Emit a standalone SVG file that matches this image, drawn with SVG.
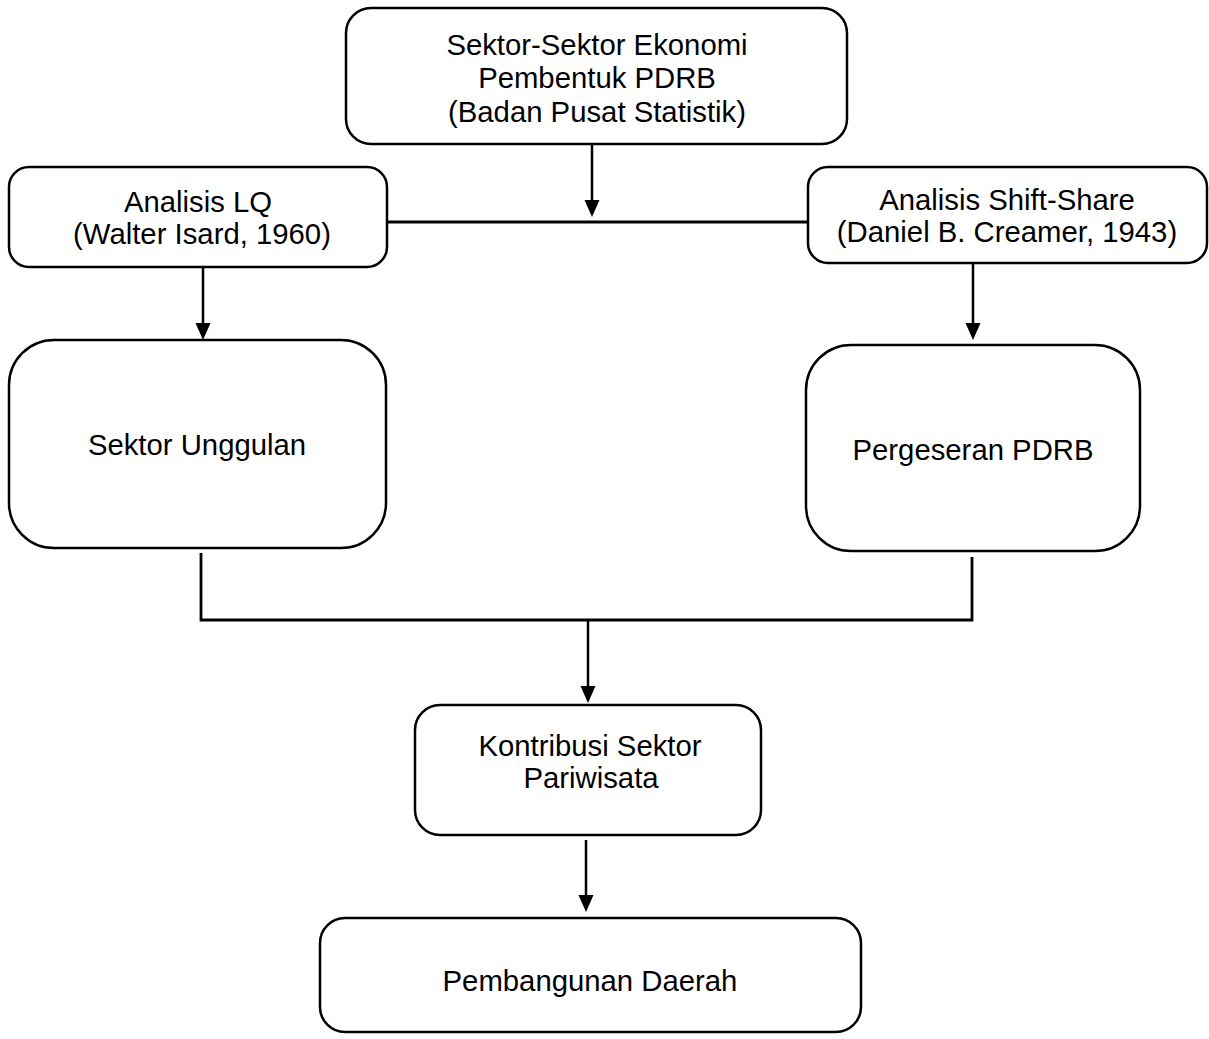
<svg xmlns="http://www.w3.org/2000/svg" width="1209" height="1039" viewBox="0 0 1209 1039">
<style>
.box{fill:#fff;stroke:#000;stroke-width:2.5}
.t{font-family:"Liberation Sans",Arial,sans-serif;font-size:29.3px;fill:#000;text-anchor:middle}
.c{stroke:#000;stroke-width:2.5;fill:none}
.h{fill:#000}
</style>
<rect width="1209" height="1039" fill="#fff"/>
<g id="connectors">
<line class="c" x1="592" y1="144" x2="592" y2="202"/>
<path class="h" d="M584.5,200 L599.5,200 L592,217 Z"/>
<line class="c" x1="388" y1="222" x2="808" y2="222" style="stroke-width:3"/>
<line class="c" x1="203" y1="267" x2="203" y2="325"/>
<path class="h" d="M195.5,323 L210.5,323 L203,340 Z"/>
<line class="c" x1="973" y1="263" x2="973" y2="325"/>
<path class="h" d="M965.5,323 L980.5,323 L973,340 Z"/>
<polyline class="c" points="201,553 201,620 972,620 972,557" style="stroke-width:2.8"/>
<line class="c" x1="588" y1="620" x2="588" y2="688"/>
<path class="h" d="M580.5,686 L595.5,686 L588,703 Z"/>
<line class="c" x1="586" y1="840" x2="586" y2="897"/>
<path class="h" d="M578.5,895 L593.5,895 L586,912 Z"/>
</g>
<g id="node-sektor-ekonomi">
<rect class="box" x="346" y="8" width="501" height="136" rx="25"/>
<text class="t" x="597" y="55">Sektor-Sektor Ekonomi</text>
<text class="t" x="597" y="88">Pembentuk PDRB</text>
<text class="t" x="597" y="122">(Badan Pusat Statistik)</text>
</g>
<g id="node-lq">
<rect class="box" x="9" y="167" width="378" height="100" rx="20"/>
<text class="t" x="198" y="212">Analisis LQ</text>
<text class="t" x="202" y="244">(Walter Isard, 1960)</text>
</g>
<g id="node-shift-share">
<rect class="box" x="808" y="167" width="399" height="96" rx="20"/>
<text class="t" x="1007" y="210">Analisis Shift-Share</text>
<text class="t" x="1007" y="242">(Daniel B. Creamer, 1943)</text>
</g>
<g id="node-sektor-unggulan">
<rect class="box" x="9" y="340" width="377" height="208" rx="45"/>
<text class="t" x="197" y="455">Sektor Unggulan</text>
</g>
<g id="node-pergeseran">
<rect class="box" x="806" y="345" width="334" height="206" rx="45"/>
<text class="t" x="973" y="460">Pergeseran PDRB</text>
</g>
<g id="node-kontribusi">
<rect class="box" x="415" y="705" width="346" height="130" rx="25"/>
<text class="t" x="590" y="756">Kontribusi Sektor</text>
<text class="t" x="591" y="788">Pariwisata</text>
</g>
<g id="node-pembangunan">
<rect class="box" x="320" y="918" width="541" height="114" rx="25"/>
<text class="t" x="590" y="991">Pembangunan Daerah</text>
</g>
</svg>
